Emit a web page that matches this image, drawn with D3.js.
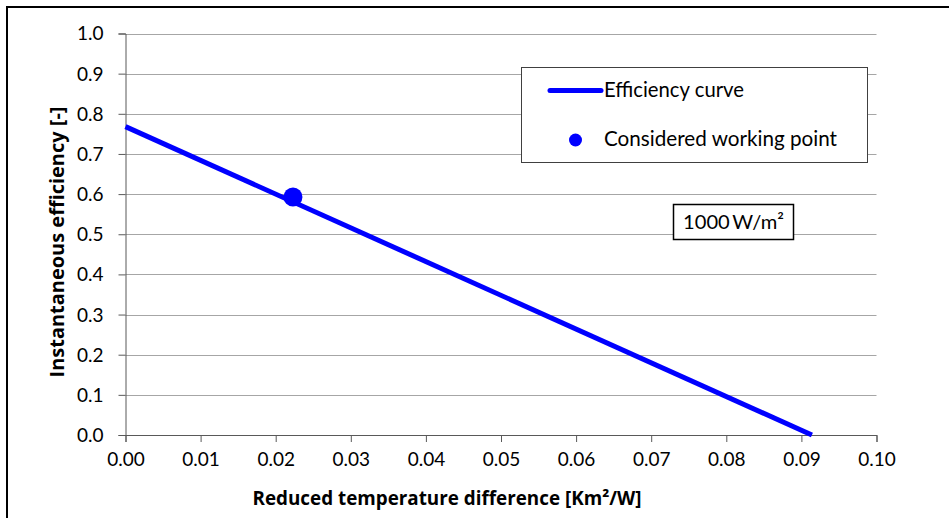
<!DOCTYPE html>
<html><head><meta charset="utf-8">
<script src="https://cdn.jsdelivr.net/npm/d3@7"></script>
<style>
html,body{margin:0;padding:0;background:#fff;}
svg{display:block;}
text{font-family:Lato,"Open Sans",sans-serif;fill:#000;}
</style></head>
<body>
<svg id="c" width="949" height="518"></svg>
<script>
// Data
const curveX = [0.0, 0.0914];
const curveY = [0.768, 0.0];
const pointX = [0.0223];
const pointY = [0.593];
const xTicks = [0, 0.01, 0.02, 0.03, 0.04, 0.05, 0.06, 0.07, 0.08, 0.09, 0.10];
const yTicks = [0, 0.1, 0.2, 0.3, 0.4, 0.5, 0.6, 0.7, 0.8, 0.9, 1.0];
const legendLabels = ["Efficiency curve", "Considered working point"];
const annotation = "1000\u2009W/m²";
const xTitle = "Reduced temperature difference [Km²/W]";
const yTitle = "Instantaneous efficiency [-]";

// fit a text element's font size so its width matches a target width
function fit(sel, target) {
  const n = sel.node();
  const fs = parseFloat(sel.style("font-size"));
  const w = n.getComputedTextLength();
  if (w > 0) sel.style("font-size", (fs * target / w).toFixed(2) + "px");
  return sel;
}

const svg = d3.select("#c");
// outer border
svg.append("rect").attr("x", 7).attr("y", 7).attr("width", 960).attr("height", 530)
  .attr("fill", "none").attr("stroke", "#000").attr("stroke-width", 2);

const x = d3.scaleLinear().domain([0, 0.10]).range([125.5, 876.5]);
const y = d3.scaleLinear().domain([0, 1.0]).range([435, 33.5]);

// gridlines
svg.append("g").selectAll("line").data(yTicks.filter(d => d > 0)).join("line")
  .attr("x1", x(0)).attr("x2", x(0.10))
  .attr("y1", d => Math.round(y(d)) + 0.5).attr("y2", d => Math.round(y(d)) + 0.5)
  .attr("stroke", "#a6a6a6").attr("stroke-width", 1);

// y axis
const yAxis = d3.axisLeft(y).tickValues(yTicks).tickFormat(d3.format(".1f")).tickSize(7).tickPadding(15);
const gy = svg.append("g").attr("transform", `translate(${x(0)},0)`).call(yAxis);
gy.select(".domain").attr("stroke", "#595959");
gy.selectAll(".tick line").attr("stroke", "#595959");
gy.selectAll(".tick text").style("font-size", "19px").attr("fill", "#000").attr("dy", "0.34em");

// x axis
const xAxis = d3.axisBottom(x).tickValues(xTicks).tickFormat(d3.format(".2f")).tickSize(7).tickPadding(11);
const gx = svg.append("g").attr("transform", `translate(0,${y(0)})`).call(xAxis);
gx.select(".domain").attr("stroke", "#595959");
gx.selectAll(".tick line").attr("stroke", "#595959");
gx.selectAll(".tick text").style("font-size", "19px").attr("fill", "#000");

// curve
const curve = curveX.map((d, i) => [d, curveY[i]]);
svg.append("path").datum(curve)
  .attr("d", d3.line().x(d => x(d[0])).y(d => y(d[1])))
  .attr("fill", "none").attr("stroke", "#0000ff").attr("stroke-width", 5);

// working point
svg.append("g").selectAll("circle").data(pointX.map((d, i) => [d, pointY[i]])).join("circle")
  .attr("cx", d => x(d[0])).attr("cy", d => y(d[1])).attr("r", 9.5).attr("fill", "#0000ff");

// legend
const lg = svg.append("g");
lg.append("rect").attr("x", 521.5).attr("y", 67.5).attr("width", 346).attr("height", 95)
  .attr("fill", "#fff").attr("stroke", "#404040").attr("stroke-width", 1);
lg.append("line").attr("x1", 550).attr("x2", 601).attr("y1", 90.5).attr("y2", 90.5)
  .attr("stroke", "#0000ff").attr("stroke-width", 5).attr("stroke-linecap", "round");
lg.append("circle").attr("cx", 575.5).attr("cy", 140).attr("r", 6.5).attr("fill", "#0000ff");
fit(lg.append("text").attr("x", 604).attr("y", 97).style("font-size", "19px").text(legendLabels[0]), 140);
fit(lg.append("text").attr("x", 604).attr("y", 146).style("font-size", "19px").text(legendLabels[1]), 233);

// annotation
svg.append("rect").attr("x", 673.5).attr("y", 204.5).attr("width", 120).attr("height", 35)
  .attr("fill", "#fff").attr("stroke", "#000").attr("stroke-width", 1.5);
fit(svg.append("text").attr("x", 733.5).attr("y", 229).attr("text-anchor", "middle")
  .style("font-size", "18px").text(annotation), 101);

// axis titles
fit(svg.append("text").attr("x", 447).attr("y", 505).attr("text-anchor", "middle")
  .style("font-family", "'Open Sans',Lato,sans-serif")
  .style("font-size", "17px").style("font-weight", "bold").text(xTitle), 389);
fit(svg.append("text").attr("transform", "translate(64,242) rotate(-90)").attr("text-anchor", "middle")
  .style("font-family", "'Open Sans',Lato,sans-serif")
  .style("font-size", "17px").style("font-weight", "bold").text(yTitle), 271);
</script>
</body></html>
